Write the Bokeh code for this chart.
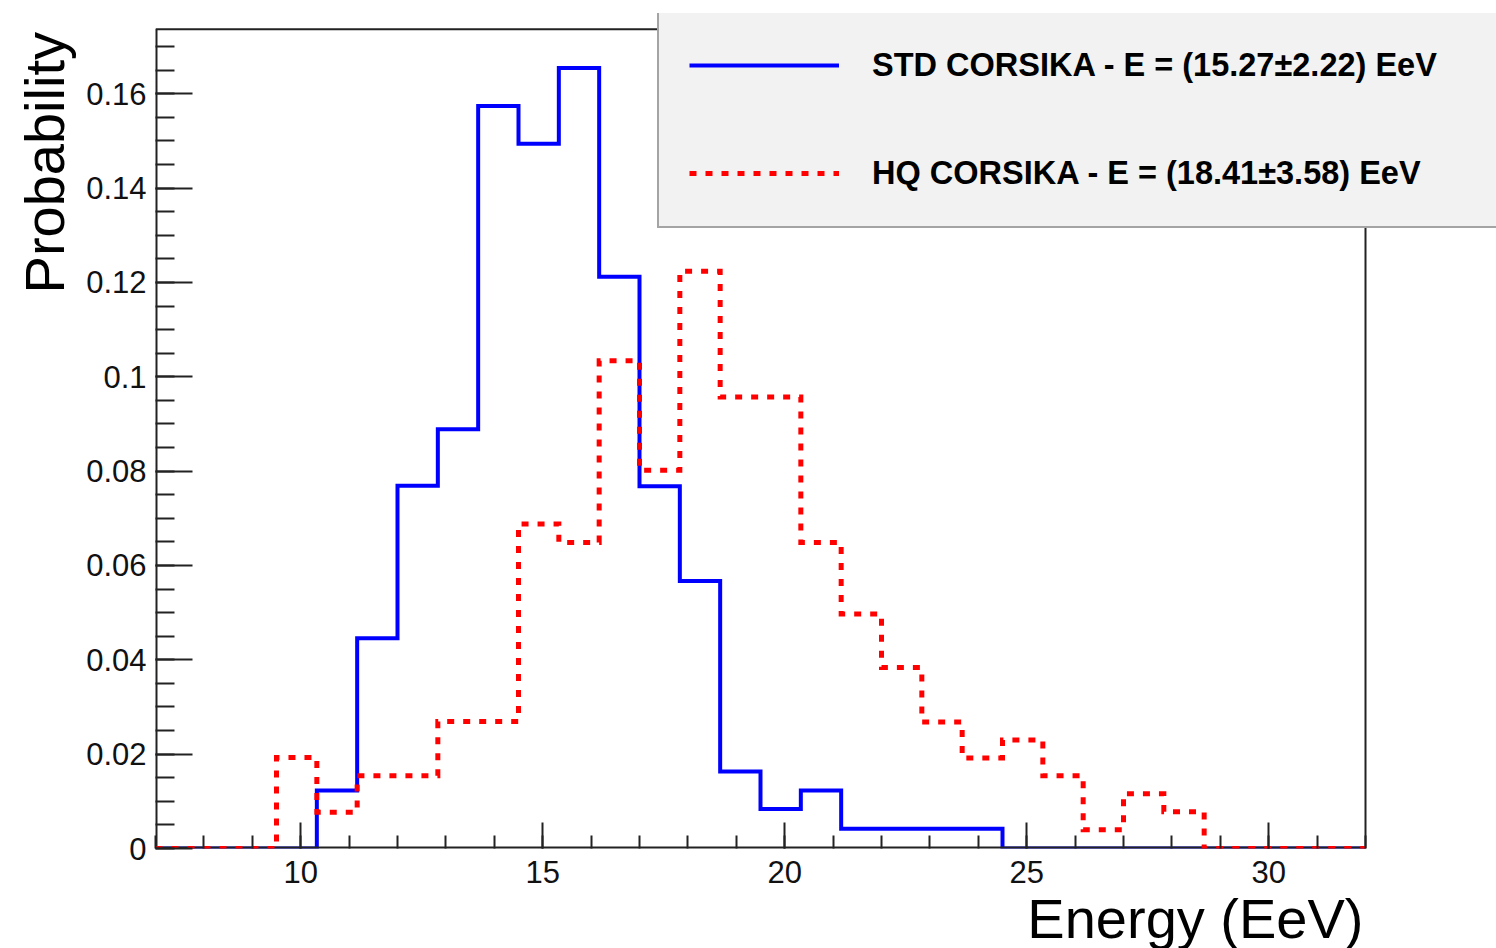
import numpy as np
from bokeh.plotting import figure
from bokeh.models import Range1d, FixedTicker, Legend, LegendItem, Title
from bokeh.embed import file_html
from bokeh.resources import INLINE

# ---- histogram binning ----
x_min, x_max, n_bins = 7.0, 32.0, 30

# ---- data (probability per bin) ----
std_prob = [0, 0, 0, 0, 0.0123, 0.0446, 0.0769, 0.0889, 0.1574, 0.1494,
            0.1655, 0.1212, 0.0768, 0.0567, 0.0163, 0.0084, 0.0123, 0.0042,
            0.0042, 0.0042, 0.0042, 0, 0, 0, 0, 0, 0, 0, 0, 0]
hq_prob = [0, 0, 0, 0.0193, 0.0077, 0.0154, 0.0154, 0.0269, 0.0269, 0.0688,
           0.0649, 0.1034, 0.0802, 0.1224, 0.0957, 0.0957, 0.0649, 0.0497,
           0.0384, 0.0268, 0.0192, 0.0230, 0.0154, 0.0040, 0.0116, 0.0078,
           0, 0, 0, 0]
y_max = 0.1737

x_ticks = [10, 15, 20, 25, 30]
x_tick_labels = ["10", "15", "20", "25", "30"]
y_ticks = [0.0, 0.02, 0.04, 0.06, 0.08, 0.1, 0.12, 0.14, 0.16]
y_tick_labels = ["0", "0.02", "0.04", "0.06", "0.08", "0.1", "0.12", "0.14", "0.16"]

std_label = "STD CORSIKA - E = (15.27\u00b12.22) EeV"
hq_label = "HQ CORSIKA - E = (18.41\u00b13.58) EeV"
x_title = "Energy (EeV)"
y_title = "Probability"

# ---- layout (pixels) ----
W, H = 1496, 948
BOX_L, BOX_R, BOX_T, BOX_B = 155, 1365, 28.7, 848   # the drawn histogram frame
CAN_T = 13                                          # bokeh frame reaches up/right to hold the legend
FONT = "Liberation Sans"
INK = "#222222"

# extend the bokeh frame so the legend box may overlap beyond the histogram frame
x_end = x_max + (W - BOX_R) * (x_max - x_min) / (BOX_R - BOX_L)
y_end = y_max * (BOX_B - CAN_T) / (BOX_B - BOX_T)

p = figure(width=W, height=H, x_range=Range1d(x_min, x_end), y_range=Range1d(0, y_end),
           output_backend="svg", toolbar_location=None, title=None,
           min_border_left=BOX_L, min_border_right=0,
           min_border_top=CAN_T, min_border_bottom=H - BOX_B,
           background_fill_color="white", border_fill_color="white")
p.grid.visible = False
p.outline_line_color = None

edges = np.linspace(x_min, x_max, n_bins + 1)
ys_std = list(std_prob) + [std_prob[-1]]
ys_hq = list(hq_prob) + [hq_prob[-1]]

r_std = p.step(edges, ys_std, mode="after", line_color="#0000ff", line_width=4,
               line_join="miter")

# histogram frame (ROOT-style box); bottom/left edges sit on the bokeh frame edge
p.segment(x0=[x_min, x_min], y0=[0, 0], x1=[x_max, x_min], y1=[0, y_max],
          line_color=INK, line_width=4)
p.segment(x0=[x_min, x_max], y0=[y_max, 0], x1=[x_max, x_max], y1=[y_max, y_max],
          line_color=INK, line_width=2)

r_hq = p.step(edges, ys_hq, mode="after", line_color="#ff0000", line_width=5,
              line_dash="7 9", line_join="miter")

# ---- axes ----
xa = p.xaxis[0]
xa.ticker = FixedTicker(ticks=x_ticks, minor_ticks=list(np.arange(x_min, x_max + 0.5, 1.0)))
xa.major_label_overrides = dict(zip(x_ticks, x_tick_labels))
ya = p.yaxis[0]
ya.ticker = FixedTicker(ticks=y_ticks,
                        minor_ticks=[round(v, 4) for v in np.arange(0, y_max, 0.005)])
ya.major_label_overrides = dict(zip(y_ticks, y_tick_labels))

for ax in (xa, ya):
    ax.axis_line_color = None
    ax.major_tick_line_color = INK
    ax.minor_tick_line_color = INK
    ax.major_tick_line_width = 2
    ax.minor_tick_line_width = 2
    ax.major_tick_out = 0
    ax.minor_tick_out = 0
    ax.major_label_text_font = FONT
    ax.major_label_text_font_size = "31px"
    ax.major_label_text_color = "#111111"

xa.major_tick_in = 26
xa.minor_tick_in = 13
ya.major_tick_in = 37
ya.minor_tick_in = 19
ya.major_label_standoff = 9

# ---- axis titles (ROOT puts them at the far end of each axis) ----
try:
    x_title_obj = Title(text=x_title, align="right", offset=W - 1363, standoff=-18,
                        vertical_align="top", text_font=FONT, text_font_size="56px",
                        text_font_style="normal", text_color="black")
    xa.major_label_standoff = 12
    # tiny blank spacer label: pushes the title a few pixels lower
    xa.axis_label = " "
    xa.axis_label_standoff = 6
    xa.axis_label_text_font_size = "1px"
except Exception:
    x_title_obj = Title(text=x_title, align="right", offset=W - 1363, standoff=0,
                        vertical_align="top", text_font=FONT, text_font_size="52px",
                        text_font_style="normal", text_color="black")
    xa.major_label_standoff = 7
p.add_layout(x_title_obj, "below")
p.add_layout(Title(text=y_title, align="right", offset=31.5 - CAN_T, standoff=16,
                   vertical_align="bottom", text_font=FONT, text_font_size="56px",
                   text_font_style="normal", text_color="black"), "left")

# ---- legend ----
legend = Legend(items=[LegendItem(label=std_label, renderers=[r_std]),
                       LegendItem(label=hq_label, renderers=[r_hq])],
                location=(657 - BOX_L, BOX_B - 228),
                padding=30, spacing=62, margin=0,
                glyph_width=150, glyph_height=46,
                label_height=30, label_width=700, label_standoff=33,
                background_fill_color="#f2f2f2", background_fill_alpha=1.0,
                border_line_color="#555555", border_line_width=2,
                label_text_font=FONT, label_text_font_style="bold",
                label_text_font_size="32.5px", label_text_color="black")
p.add_layout(legend)

open("out.html", "w").write(file_html(p, INLINE))
